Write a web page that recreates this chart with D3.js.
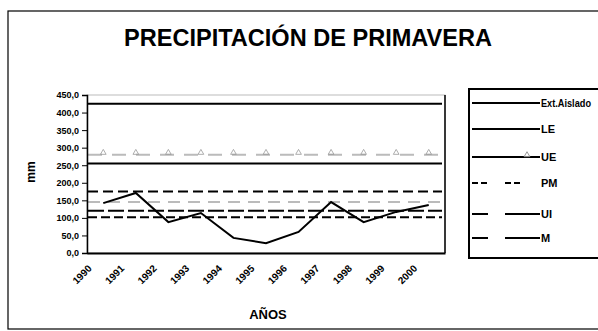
<!DOCTYPE html>
<html><head><meta charset="utf-8">
<script src="https://cdn.jsdelivr.net/npm/d3@7"></script>
<style>body{margin:0;background:#fff}svg{display:block;font-family:"Liberation Sans",Arial,sans-serif}</style>
</head><body><svg id="c" width="598" height="331"></svg>
<script>
const years = ["1990","1991","1992","1993","1994","1995","1996","1997","1998","1999","2000"];
const yTicks = [0,50,100,150,200,250,300,350,400,450];
const extAislado = [425,425,425,425,425,425,425,425,425,425,425];
const le = [255,255,255,255,255,255,255,255,255,255,255];
const ue = [280,280,280,280,280,280,280,280,280,280,280];
const pm = [175,175,175,175,175,175,175,175,175,175,175];
const q = [145,145,145,145,145,145,145,145,145,145,145];
const ui = [120,120,120,120,120,120,120,120,120,120,120];
const li = [102,102,102,102,102,102,102,102,102,102,102];
const annual = [142,171,88,114,43,28,60,145,88,117,137];
const legendNames = ["Ext.Aislado","LE","UE","PM","UI","M"];

const svg = d3.select("#c");
const L=87,R=445,T=95,B=253;
const x = d3.scaleBand().domain(years).range([L,R]);
const y = d3.scaleLinear().domain([0,450]).range([B,T]);
const cx = d=>x(d)+x.bandwidth()/2;

// outer frame
svg.append("rect").attr("x",8).attr("y",11).attr("width",600).attr("height",318)
  .attr("fill","none").attr("stroke","#000").attr("stroke-width",1.2);

svg.append("text").attr("x",308).attr("y",46).attr("text-anchor","middle")
  .attr("font-size",23).attr("font-weight","bold")
  .attr("textLength",368).attr("lengthAdjust","spacingAndGlyphs")
  .text("PRECIPITACIÓN DE PRIMAVERA");

// plot frame
svg.append("rect").attr("x",L).attr("y",T).attr("width",R-L).attr("height",B-T)
  .attr("fill","none").attr("stroke","#bbb").attr("stroke-width",1);
svg.append("line").attr("x1",R).attr("x2",R).attr("y1",T).attr("y2",B).attr("stroke","#000").attr("stroke-width",1.5);

const series = [
  {v:ue, c:"#bbb", w:2, dash:"14,10", m:true},
  {v:q, c:"#bbb", w:2, dash:"12,8"},
  {v:extAislado, c:"#000", w:2, dash:null},
  {v:le, c:"#000", w:2, dash:null},
  {v:pm, c:"#000", w:2, dash:"10,5"},
  {v:ui, c:"#000", w:2, dash:"16,4"},
  {v:li, c:"#000", w:2, dash:"9,4"},
  {v:annual, c:"#000", w:2, dash:null}
];
const line = d3.line().x((d,i)=>cx(years[i])).y(d=>y(d));
const lineFull = (v)=>d3.line().x((d,i)=> i===0? L+1 : (i===v.length-1? R-3 : cx(years[i]))).y(d=>y(d))(v);
series.forEach((s)=>{
  const p = svg.append("path").attr("d", s.v===annual? line(s.v) : lineFull(s.v))
   .attr("fill","none").attr("stroke",s.c).attr("stroke-width",s.w);
  if(s.dash) p.attr("stroke-dasharray",s.dash);
  if(s.m){
    svg.selectAll(null).data(s.v).join("path")
      .attr("d",d3.symbol(d3.symbolTriangle,14)())
      .attr("transform",(d,i)=>`translate(${cx(years[i])},${y(d)-2})`)
      .attr("fill","none").attr("stroke","#999").attr("stroke-width",0.8);
  }
});

// axes
const ya = svg.append("g").attr("transform",`translate(${L},0)`)
  .call(d3.axisLeft(y).tickValues(yTicks).tickSize(5).tickFormat(d=>d3.format(".1f")(d).replace(".",",")));
ya.select(".domain").attr("stroke-width",1.5);
ya.selectAll("text").attr("font-size",9).attr("font-weight","bold").attr("font-family","Liberation Sans, Arial");
const xa = svg.append("g").attr("transform",`translate(0,${B})`)
  .call(d3.axisBottom(x).tickSize(0).tickSizeOuter(0));
xa.select(".domain").attr("stroke-width",2);
xa.selectAll("text").attr("font-size",10).attr("font-weight","bold").attr("font-family","Liberation Sans, Arial")
  .attr("text-anchor","end").attr("dy",0)
  .attr("transform","translate(-13,14) rotate(-45)");

svg.append("text").attr("transform","translate(35,172) rotate(-90)").attr("text-anchor","middle")
  .attr("font-size",12).attr("font-weight","bold").text("mm");
svg.append("text").attr("x",268).attr("y",319).attr("text-anchor","middle")
  .attr("font-size",13).attr("font-weight","bold").text("AÑOS");

// legend
const lg = svg.append("g");
lg.append("rect").attr("x",469).attr("y",89).attr("width",140).attr("height",169)
  .attr("fill","#fff").attr("stroke","#000").attr("stroke-width",2);
const legY = [103,129,157,183,214,238];
const legStyle = [
  {segs:[[472,540]], dash:null},
  {segs:[[472,540]], dash:null},
  {segs:[[472,505],[505,540]], dash:null, m:true},
  {segs:[[472,488],[505,520]], dash:"6,3"},
  {segs:[[472,488],[505,540]], dash:null},
  {segs:[[472,488],[505,540]], dash:null}
];
legendNames.forEach((n,i)=>{
  legStyle[i].segs.forEach(s=>{
    const l = lg.append("line").attr("x1",s[0]).attr("x2",s[1]).attr("y1",legY[i]).attr("y2",legY[i])
      .attr("stroke","#000").attr("stroke-width",2);
    if(legStyle[i].dash) l.attr("stroke-dasharray",legStyle[i].dash);
  });
  if(legStyle[i].m) lg.append("path").attr("d",d3.symbol(d3.symbolTriangle,14)())
    .attr("transform",`translate(527,${legY[i]-2})`).attr("fill","none").attr("stroke","#999");
  const t = lg.append("text").attr("x",541).attr("y",legY[i]+4).attr("font-size",11).attr("font-weight","bold").text(n);
  if(i===0) t.attr("font-size",10).attr("textLength",50).attr("lengthAdjust","spacingAndGlyphs");
});
</script></body></html>
